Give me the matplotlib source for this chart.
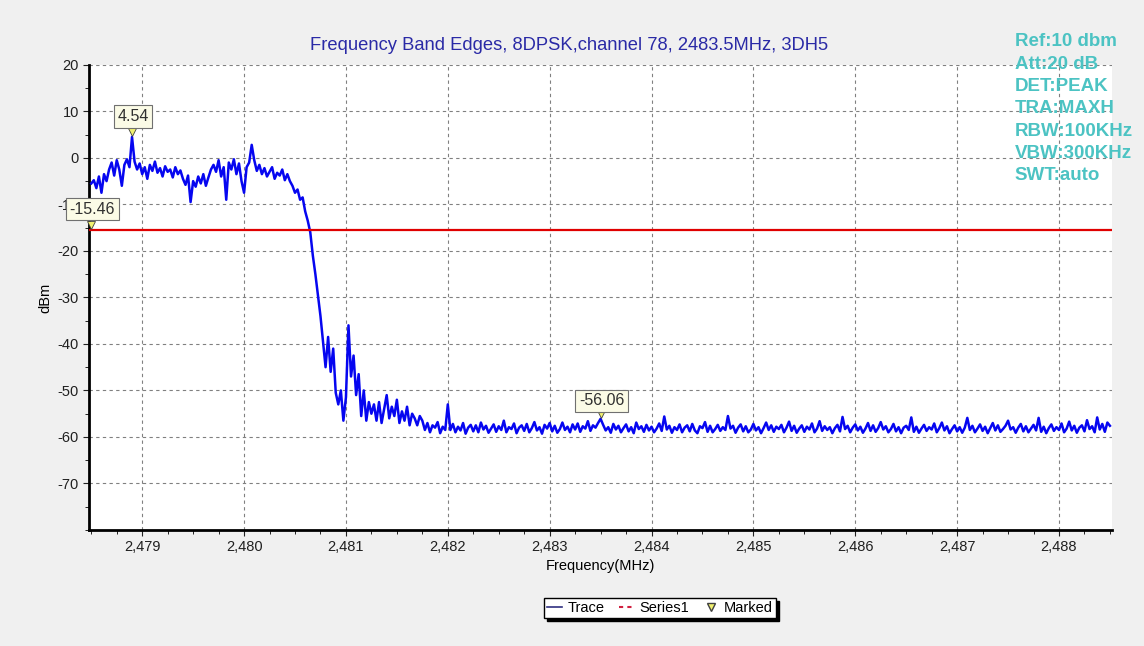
import matplotlib
matplotlib.use('Agg')
import matplotlib.pyplot as plt
from matplotlib.lines import Line2D
from matplotlib.ticker import MultipleLocator, FuncFormatter
import numpy as np

plt.rcParams['font.family'] = ['Liberation Sans', 'DejaVu Sans']
plt.rcParams['axes.unicode_minus'] = False

title = 'Frequency Band Edges, 8DPSK,channel 78, 2483.5MHz, 3DH5'
settings = ['Ref:10 dbm', 'Att:20 dB', 'DET:PEAK', 'TRA:MAXH',
            'RBW:100KHz', 'VBW:300KHz', 'SWT:auto']

# sweep start / stop (MHz), trace (dBm)
f_start = 2478.5
f_stop = 2488.5
trace = [
    # in-band part
    -5.5, -4.8, -6.5, -4.0, -7.5, -3.5, -5.0, -2.5, -1.0, -3.8, -0.5, -2.5, -6.0, -1.5, -0.3, -2.0,
    4.5,
    -0.8, -2.5, -1.2, -3.5, -2.0, -4.5, -1.5,
    -2.8, -0.8, -3.2, -2.2, -4.0, -1.8, -3.0, -2.5, -4.2, -2.0, -3.5, -2.7,
    -4.5, -5.8, -3.8, -9.5, -5.0, -6.2, -4.0, -5.5, -3.5, -6.0, -4.2, -2.5,
    -1.5, -3.0, -0.5, -4.0, -2.0, -9.0, -1.0, -2.5, -0.3, -3.5, -1.2, -5.0, -7.5, -2.0, -1.0,
    2.8,
    -0.5, -2.8, -1.5, -3.5, -2.2, -4.0, -3.0, -2.0, -4.5, -3.2, -3.8, -2.5, -4.8, -3.5, -5.0,
    # band edge roll-off
    -6.0, -7.5, -6.8, -9.0, -8.5, -11.5, -13.5, -16.0, -21.0, -25.0, -29.5, -34.0,
    -39.5, -45.0, -38.5, -46.0, -41.0, -50.5, -53.0, -50.0, -56.5, -51.5, -36.0, -47.0,
    -42.5, -51.0, -46.5, -55.5, -50.0, -56.5, -52.5, -55.0,
    -53.0, -56.5, -52.5, -57.0, -54.0, -51.0, -56.0, -53.5, -55.5, -52.0,
    -57.0, -54.5, -56.5, -53.5, -57.5, -55.0, -56.0, -57.5, -55.5,
    # noise floor
    -56.5, -58.5, -57.0, -59.0, -57.5, -58.0, -56.8, -59.2, -57.8, -58.5,
    -53.0, -58.5, -57.2, -59.0, -57.8, -58.6, -57.0, -59.3, -58.0, -57.4,
    -58.8, -57.5, -59.0, -56.9, -58.4, -57.6, -59.1, -58.2, -57.3, -58.9,
    -57.7, -58.5, -56.5, -59.0, -57.9, -58.3, -57.1, -59.2, -58.0, -57.5,
    -58.7, -57.2, -59.0, -58.1, -56.8, -58.6, -57.9, -59.3, -57.4, -58.2,
    -57.0, -58.8, -57.6, -59.1, -58.3, -56.9, -58.5, -57.8, -59.0, -57.3,
    -58.4, -57.1, -58.9, -57.7, -58.2, -56.6, -58.7, -57.5, -58.0, -57.0,
    -56.1, -57.4, -58.6, -57.9, -59.1, -57.2, -58.4, -57.6, -59.0, -58.1,
    -57.3, -58.8, -57.9, -59.2, -56.9, -58.3, -57.7, -58.9, -57.4, -58.6,
    -57.8, -59.0, -58.2, -57.1, -58.7, -55.6, -58.4, -57.6, -59.1, -57.9,
    -58.5, -57.3, -59.0, -58.0, -57.5, -58.8, -57.2, -58.6, -59.2, -57.7,
    -58.1, -56.8, -58.9, -57.6, -59.0, -58.3, -57.4, -58.7, -57.9, -58.5,
    -55.5, -58.2, -57.6, -59.1, -58.0, -57.3, -58.8, -57.7, -59.0, -58.4,
    -57.2, -58.6, -57.9, -59.2, -58.1, -56.9, -58.5, -57.5, -58.9, -57.8,
    -58.3, -57.4, -59.0, -58.0, -56.7, -58.7, -57.6, -59.1, -58.2, -57.5,
    -58.9, -57.8, -58.4, -57.1, -59.0, -58.2, -56.6, -58.7, -57.7, -58.5,
    -57.9, -59.2, -58.1, -57.4, -58.8, -55.7, -58.3, -57.6, -59.0, -58.0,
    -57.3, -58.6, -57.8, -59.1, -58.2, -57.0, -58.7, -57.5, -58.9, -58.1,
    -56.8, -58.4, -57.7, -59.0, -58.3, -57.2, -58.8, -57.9, -59.2, -58.0,
    -57.6, -58.5, -55.8, -58.9, -57.8, -59.1, -58.2, -57.4, -58.7, -57.9,
    -58.4, -57.1, -59.0, -58.1, -56.9, -58.6, -57.7, -59.2, -58.3, -57.5,
    -58.8, -57.9, -59.1, -58.0, -55.9, -58.5, -57.6, -59.0, -58.2, -57.3,
    -58.7, -57.8, -59.2, -58.1, -57.0, -58.6, -57.5, -58.9, -58.3, -57.6,
    -56.5, -58.4, -57.9, -59.1, -58.0, -57.2, -58.8, -57.7, -59.0, -58.2,
    -57.4, -58.6, -55.9, -58.9, -57.8, -59.2, -58.1, -57.3, -58.7, -57.9,
    -58.5, -57.1, -59.0, -58.2, -56.7, -58.6, -57.6, -59.1, -58.0, -57.5,
    -58.8, -56.4, -58.3, -57.7, -59.0, -55.8, -58.4, -57.2, -58.9, -56.9, -57.6,
]
freq = np.linspace(f_start, f_stop, len(trace))

limit_line = -15.46
marker_f = [2478.9, 2478.5, 2483.5]
marker_v = [4.54, -15.46, -56.06]
marker_txt = ['4.54', '-15.46', '-56.06']
label_v = [8.9, -11.0, -52.2]

fig = plt.figure(figsize=(11.44, 6.46), dpi=100)
fig.patch.set_facecolor('#f0f0f0')
ax = fig.add_axes([0.078, 0.1796, 0.894, 0.72])
ax.set_facecolor('white')

ax.plot(freq, trace, color='#0606f0', lw=1.8, zorder=3)
ax.axhline(limit_line, color='#e00000', lw=1.6, zorder=4)

for f, v, t, lv in zip(marker_f, marker_v, marker_txt, label_v):
    ax.plot(f, v + 1.0, marker='v', ms=6, mfc='#f0f070', mec='#404040',
            mew=0.6, zorder=6, clip_on=False)
    ax.text(f + 0.01, lv, t, ha='center', va='center', fontsize=11.5,
            color='#303030', zorder=7, clip_on=False,
            bbox=dict(boxstyle='square,pad=0.22', fc='#fbfbe6', ec='#707070', lw=0.8))

ax.set_xlim(2478.48, 2488.52)
ax.set_ylim(-80, 20)
ax.xaxis.set_major_locator(MultipleLocator(1))
ax.xaxis.set_minor_locator(MultipleLocator(0.25))
ax.xaxis.set_major_formatter(FuncFormatter(lambda x, p: f'{x:,.0f}'))
ax.set_yticks(np.arange(-70, 21, 10))
ax.yaxis.set_minor_locator(MultipleLocator(5))
ax.tick_params(labelsize=10.5, colors='#202020', length=4, width=0.8)
ax.tick_params(which='minor', length=3, width=0.6)
ax.grid(True, which='major', color='#808080', ls=(0, (3, 3)), lw=0.8)

for s in ['top', 'right']:
    ax.spines[s].set_visible(False)
for s in ['left', 'bottom']:
    ax.spines[s].set_linewidth(2)

ax.set_xlabel('Frequency(MHz)', fontsize=10.5, labelpad=3)
ax.set_ylabel('dBm', fontsize=10.5, labelpad=4)

fig.text(0.497, 0.93, title, ha='center', va='center', fontsize=13.2, color='#2a2aa6')

for i, s in enumerate(settings):
    fig.text(0.887, 0.935 - i * 0.0345, s, ha='left', va='center', fontsize=13.5,
             fontweight='bold', color='#4cc3c3')

handles = [Line2D([], [], color='#303080', lw=1.2),
           Line2D([], [], color='#d02040', lw=1.5, ls=(0, (2, 2))),
           Line2D([], [], color='none', marker='v', ms=6, mfc='#f0f070', mec='#404040')]
leg = fig.legend(handles, ['Trace', 'Series1', 'Marked'], loc='center',
                 bbox_to_anchor=(0.577, 0.059), ncol=3, fontsize=10.5, frameon=True,
                 fancybox=False, shadow={'color': 'black', 'alpha': 1.0},
                 handlelength=1.0, handletextpad=0.4,
                 columnspacing=1.0, borderpad=0.2)
leg.get_frame().set_edgecolor('black')
leg.get_frame().set_linewidth(1.0)

fig.savefig('out.png', dpi=100, facecolor=fig.get_facecolor())
